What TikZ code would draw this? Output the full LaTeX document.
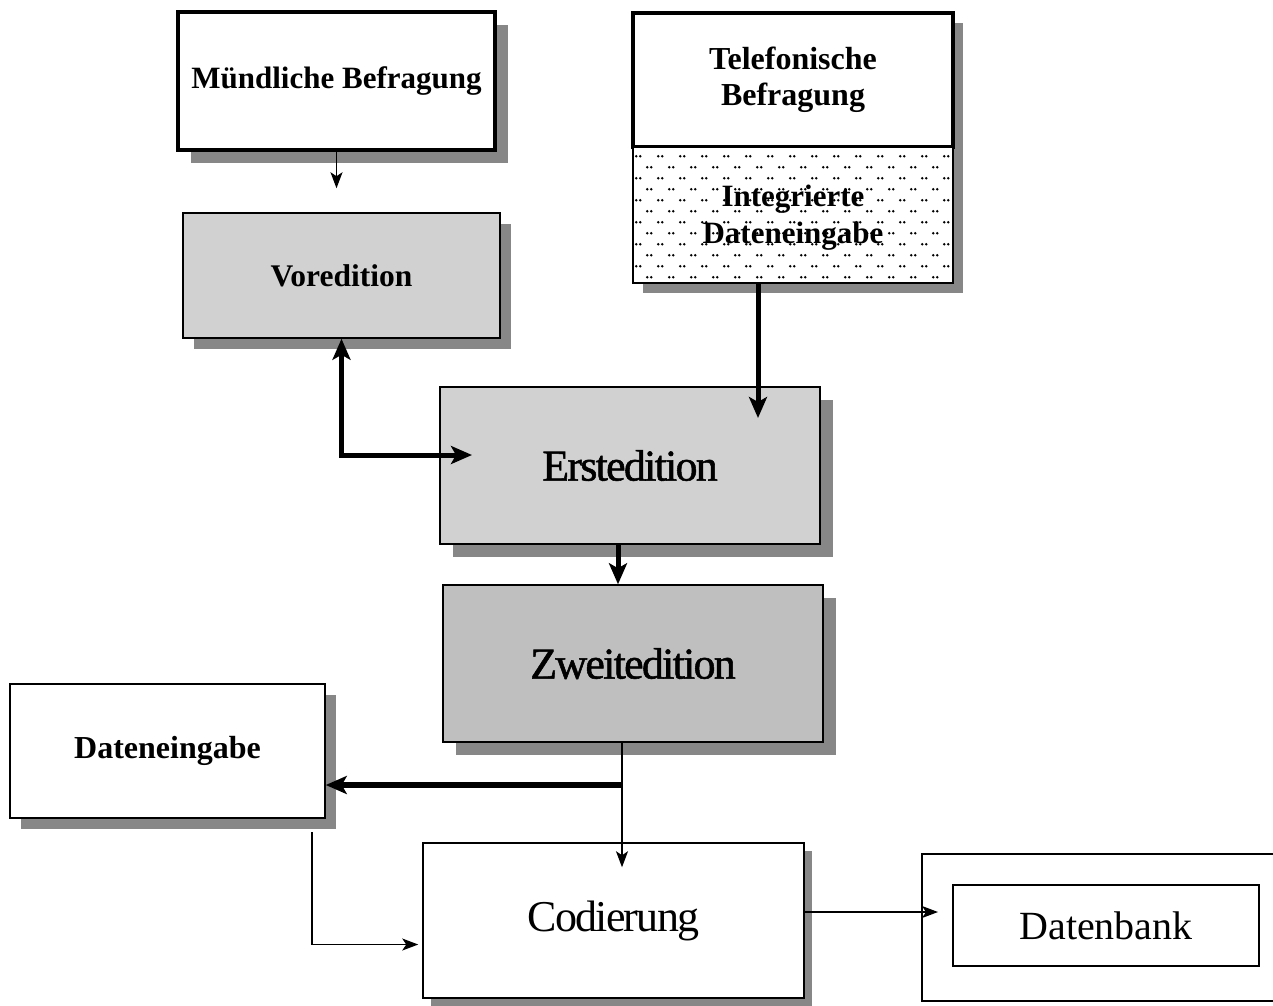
\documentclass[tikz,border=0pt]{standalone}
\usepackage{fontspec}
\setmainfont{Liberation Serif}
\newfontfamily\tightserif[LetterSpace=-4]{Liberation Serif}
\newfontfamily\tightheavy[LetterSpace=-4,FakeBold=1.2]{Liberation Serif}
\usetikzlibrary{arrows.meta,shadows,calc}

\begin{document}
\begin{tikzpicture}[x=1pt,y=-1pt,
  shade/.style={general shadow={fill=black!47,shadow xshift=#1pt,shadow yshift=-#1pt}},
  box/.style={draw=black,line width=1.5pt,fill=white,inner sep=4pt,align=center},
  heavybox/.style={box,line width=4.5pt},
  lightfill/.style={fill=black!18},
  darkfill/.style={fill=black!25},
  boldlabel/.style={font=\bfseries\fontsize{31}{36}\selectfont},
  biglabel/.style={font=\tightserif\fontsize{44}{50}\selectfont},
  bigheavy/.style={font=\tightheavy\fontsize{44}{50}\selectfont},
  thinline/.style={line width=1.3pt,-{Stealth[length=16pt,width=12pt,inset=4pt]}},
  thickline/.style={line width=5pt,-{Stealth[length=21pt,width=18pt,inset=5pt]}},
  thickboth/.style={line width=5pt,{Stealth[length=21pt,width=18pt,inset=5pt]}-{Stealth[length=21pt,width=18pt,inset=5pt]}}
]
\useasboundingbox (0,0) rectangle (1273,1005);
\fill[white] (0,0) rectangle (1273,1005);

% sources of the interviews
\node[heavybox,shade=13,boldlabel,minimum width=317pt,minimum height=138pt]
  (mb) at (336.5,81) {Mündliche Befragung};
\node[heavybox,shade=10,font=\bfseries\fontsize{32}{36}\selectfont,
  minimum width=320pt,minimum height=134pt] (tel) at (793,80) {Telefonische\\Befragung};
\node[box,shade=10,minimum width=320pt,minimum height=136pt] (int) at (793,215) {};

% dotted screen of the integrated entry field
\begin{scope}
  \clip (int.north west) rectangle (int.south east);
  \foreach \r in {0,...,11}{
    \foreach \c in {0,...,15}{
      \pgfmathsetmacro\xo{\c*22+mod(\r,2)*11+4}
      \fill ([shift={(\xo,\r*11+10)}]int.north west)
        circle (1.4) ++(4,0) circle (1.4);
    }}
\end{scope}
\node[font=\bfseries\fontsize{31}{37}\selectfont,align=center] (intlabel) at ([yshift=-3pt]int.center)
  {Integrierte\\Dateneingabe};

% editing stages
\node[box,lightfill,shade=11,font=\bfseries\fontsize{31.5}{36}\selectfont,
  minimum width=317pt,minimum height=125pt] (vor) at (341.5,275.5) {Voredition};
\node[box,lightfill,shade=13,bigheavy,minimum width=380pt,minimum height=157pt]
  (ers) at (630,465.5) {Erstedition};
\node[box,darkfill,shade=13,bigheavy,minimum width=380pt,minimum height=157pt]
  (zwe) at (633,663.5) {Zweitedition};

% data entry, coding and database
\node[box,shade=11,font=\bfseries\fontsize{32}{36}\selectfont,
  minimum width=315pt,minimum height=134pt] (dat) at (167.5,751) {Dateneingabe};
\node[box,shade=8,biglabel,minimum width=381pt,minimum height=155pt]
  (cod) at (613.5,920.5) {Codierung};
\node[box,line width=1.2pt,minimum width=358pt,minimum height=147pt] (dbo) at (1101,927.5) {};
\node[box,line width=1.2pt,font=\fontsize{40}{46}\selectfont,
  minimum width=306pt,minimum height=81pt] (dbi) at (1106,925.5) {Datenbank};

% connectors
\coordinate (e1) at (472,455);
\coordinate (t2) at (758,418);
\coordinate (ez) at (618,0);
\coordinate (br) at (622,785);
\coordinate (dl) at (312,832);
\coordinate (dbt) at (938,912);

\draw[thinline] (mb.south) -- ($(vor.north -| mb.south)+(0,-24)$);
\draw[thickboth] (vor.south) |- (e1);
\draw[thickline] (int.south -| t2) -- (t2);
\draw[thickline] (ers.south -| ez) -- (zwe.north -| ez);
\draw[line width=1.3pt] (zwe.south -| br) -- (br);
\draw[thinline] (br) -- ($(cod.north -| br)+(0,25)$);
\draw[line width=6pt,-{Stealth[length=21pt,width=18pt,inset=5pt]}] (br) -- (dat.east |- br);
\draw[thinline] (dl) |- ($(cod.west)+(-4,24)$);
\draw[thinline] (cod.east |- dbt) -- (dbt);
\end{tikzpicture}
\end{document}
